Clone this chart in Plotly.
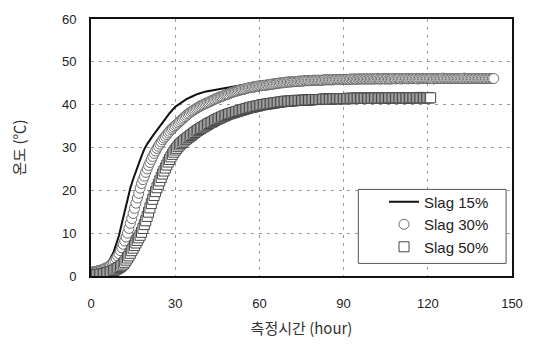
import plotly.graph_objects as go

# ---- data ----
# Slag 15% (solid line)
t15 = [0, 2, 4, 6, 8, 9, 10, 11, 12, 13, 14, 15, 16, 17, 18, 19, 20, 22, 24, 26, 28, 30,
       32, 34, 36, 38, 41, 45, 50, 55, 60, 70, 80, 100, 120, 144]
slag15 = [0.0, 0.5, 1.5, 3.0, 5.5, 7.5, 9.5, 12.3, 15.2, 18.0, 20.5, 22.6, 24.5, 26.3, 28.0,
          29.6, 30.8, 32.7, 34.5, 36.3, 38.0, 39.5, 40.5, 41.3, 41.9, 42.5, 43.1, 43.6, 44.2,
          44.7, 45.1, 45.6, 45.9, 46.0, 46.0, 46.0]

# Slag 30% and Slag 50%: readings every half hour, starting at 0 h
STEP_H = 0.5
slag30 = [
    0.9, 0.9, 1.0, 1.0, 1.1, 1.2, 1.3, 1.4, 1.5, 1.6, 1.8, 1.9, 2.1, 2.3, 2.6, 2.9, 3.2, 3.6,
    4.1, 4.6, 5.2, 5.9, 6.6, 7.4, 8.2, 9.1, 10.0, 11.1, 12.3, 13.4, 14.6, 15.8, 17.0, 18.2,
    19.3, 20.5, 21.6, 22.5, 23.3, 24.2, 25.0, 25.8, 26.5, 27.2, 27.9, 28.6, 29.2, 29.8,
    30.3, 30.8, 31.3, 31.8, 32.2, 32.6, 33.0, 33.4, 33.8, 34.2, 34.5, 34.8, 35.1, 35.4,
    35.7, 36.0, 36.3, 36.6, 36.9, 37.2, 37.5, 37.8, 38.0, 38.3, 38.5, 38.7, 38.9, 39.1,
    39.3, 39.5, 39.7, 39.9, 40.0, 40.2, 40.3, 40.5, 40.6, 40.8, 40.9, 41.1, 41.2, 41.4,
    41.5, 41.7, 41.8, 41.9, 42.0, 42.2, 42.3, 42.4, 42.5, 42.7, 42.8, 42.9, 43.0, 43.1,
    43.2, 43.3, 43.4, 43.5, 43.5, 43.6, 43.7, 43.8, 43.9, 44.0, 44.0, 44.1, 44.1, 44.2,
    44.3, 44.3, 44.4,
    44.4, 44.5, 44.5, 44.5, 44.6, 44.6, 44.7, 44.7, 44.8, 44.8, 44.9, 44.9, 45.0, 45.0,
    45.1, 45.1, 45.1, 45.2, 45.2, 45.3,
    45.3, 45.3, 45.3, 45.4, 45.4, 45.4, 45.4, 45.5, 45.5, 45.5, 45.5, 45.6, 45.6, 45.6,
    45.6, 45.6, 45.6, 45.7, 45.7, 45.7,
    45.7, 45.7, 45.7, 45.7, 45.7, 45.8, 45.8, 45.8, 45.8, 45.8, 45.8, 45.8, 45.8, 45.9,
    45.9, 45.9, 45.9, 45.9, 45.9, 45.9,
    45.9, 45.9, 45.9, 45.9, 46.0, 45.9, 46.0, 46.0, 45.9, 46.0, 46.0, 46.0, 46.0, 46.0,
    46.0, 46.0, 46.0, 46.0, 46.0, 46.0,
    46.0, 46.0, 46.0, 46.1, 46.0, 46.0, 46.0, 46.1, 46.0, 46.0, 46.1, 46.0, 46.0, 46.0,
    46.1, 46.1, 46.0, 46.1, 46.1, 46.1,
    46.0, 46.1, 46.1, 46.1, 46.1, 46.0, 46.1, 46.1, 46.1, 46.1, 46.1, 46.1, 46.0, 46.1,
    46.1, 46.1, 46.1, 46.1, 46.1, 46.1,
    46.1, 46.1, 46.1, 46.0, 46.1, 46.1, 46.1, 46.1, 46.1, 46.1, 46.2, 46.1, 46.1, 46.1,
    46.1, 46.1, 46.1, 46.1, 46.1, 46.1,
    46.1, 46.1, 46.1, 46.1, 46.1, 46.2, 46.1, 46.1, 46.1, 46.1, 46.1, 46.1, 46.1, 46.1,
    46.1, 46.1, 46.1, 46.1, 46.1, 46.1,
    46.1, 46.1, 46.1, 46.1, 46.1, 46.1, 46.1,
]
slag50 = [
    0.3, 0.3, 0.3, 0.3, 0.3, 0.3, 0.4, 0.4, 0.5, 0.5, 0.6, 0.7, 0.8, 0.9, 1.0, 1.1, 1.3, 1.4,
    1.6, 1.8, 2.0, 2.2, 2.5, 2.8, 3.2, 3.7, 4.2, 4.7, 5.3, 5.9, 6.5, 7.1, 7.7, 8.3, 8.9, 9.5,
    10.2, 11.1, 12.0, 12.9, 13.9, 14.9, 15.9, 16.9, 17.9, 18.8, 19.7, 20.6, 21.4, 22.2,
    23.0, 23.8, 24.5, 25.2, 25.9, 26.6, 27.2, 27.8, 28.4, 28.9, 29.4, 29.8, 30.2, 30.6,
    30.9, 31.2, 31.5, 31.8, 32.0, 32.3, 32.5, 32.8, 33.0, 33.3, 33.5, 33.8, 34.0, 34.2,
    34.4, 34.6, 34.8, 35.0, 35.2, 35.4, 35.6, 35.8, 35.9, 36.1, 36.3, 36.5, 36.6, 36.8,
    36.9, 37.1, 37.2, 37.4, 37.5, 37.7, 37.8, 37.9, 38.0, 38.1, 38.2, 38.3, 38.4, 38.5,
    38.6, 38.7, 38.8, 38.9, 39.0, 39.1, 39.2, 39.3, 39.4, 39.4, 39.5, 39.6, 39.7, 39.7,
    39.8,
    39.9, 40.0, 40.0, 40.1, 40.1, 40.2, 40.2, 40.3, 40.3, 40.4, 40.4, 40.5, 40.5, 40.6,
    40.6, 40.7, 40.7, 40.8, 40.8, 40.8,
    40.8, 40.9, 40.9, 40.9, 40.9, 41.0, 41.0, 41.0, 41.0, 41.0, 41.0, 41.1, 41.1, 41.1,
    41.1, 41.1, 41.1, 41.2, 41.2, 41.2,
    41.2, 41.2, 41.2, 41.2, 41.3, 41.3, 41.3, 41.3, 41.3, 41.3, 41.3, 41.3, 41.4, 41.4,
    41.4, 41.4, 41.4, 41.4, 41.4, 41.4,
    41.4, 41.4, 41.5, 41.4, 41.5, 41.5, 41.4, 41.5, 41.5, 41.5, 41.5, 41.5, 41.5, 41.5,
    41.5, 41.5, 41.5, 41.5, 41.5, 41.5,
    41.5, 41.5, 41.6, 41.5, 41.5, 41.6, 41.5, 41.6, 41.6, 41.5, 41.6, 41.6, 41.6, 41.6,
    41.6, 41.6, 41.6, 41.6, 41.6, 41.6,
    41.6, 41.6, 41.6, 41.6, 41.5, 41.6, 41.6, 41.6, 41.6, 41.6, 41.6, 41.6, 41.6, 41.7,
    41.6, 41.6, 41.6, 41.6, 41.6, 41.6,
    41.6, 41.6,
]
t30 = [i * STEP_H for i in range(len(slag30))]
t50 = [i * STEP_H for i in range(len(slag50))]

x_ticks = [0, 30, 60, 90, 120, 150]
y_ticks = [0, 10, 20, 30, 40, 50, 60]

FONT = "Liberation Sans, Arial, sans-serif"
KFONT = "Noto Sans CJK KR, Liberation Sans, sans-serif"

fig = go.Figure()
fig.add_trace(go.Scatter(
    x=t15, y=slag15, mode="lines", name="Slag 15%", legendgroup="a",
    line=dict(color="#111111", width=2),
))
fig.add_trace(go.Scatter(
    x=t30, y=slag30, mode="markers", name="Slag 30%", legendgroup="b",
    marker=dict(symbol="circle", size=10, color="white",
                line=dict(color="#6a6a6a", width=1)),
))
fig.add_trace(go.Scatter(
    x=t50, y=slag50, mode="markers", name="Slag 50%", legendgroup="c",
    marker=dict(symbol="square", size=10, color="white",
                line=dict(color="#474747", width=1)),
))

# legend frame
fig.add_shape(type="rect", xref="paper", yref="paper",
              x0=0.635, x1=0.986, y0=0.049, y1=0.337,
              line=dict(color="#555555", width=1), fillcolor="white", layer="above")

fig.update_layout(
    width=535, height=348,
    margin=dict(l=91, r=17, t=12, b=72),
    paper_bgcolor="white", plot_bgcolor="white",
    font=dict(family=FONT, size=13, color="#222222"),
    showlegend=True,
    legend=dict(
        x=0.696, y=0.352, xanchor="left", yanchor="top",
        bgcolor="rgba(0,0,0,0)", borderwidth=0,
        font=dict(family=FONT, size=15, color="#222222"),
        tracegroupgap=7, traceorder="normal",
    ),
    xaxis=dict(
        range=[0, 150], tickvals=x_ticks, ticks="", ticklabelstandoff=14,
        showline=True, linecolor="#111111", linewidth=2, mirror=True,
        showgrid=True, gridcolor="#9a9a9a", griddash="3px,5px", gridwidth=1,
        zeroline=False,
        title=dict(text="측정시간 (hour)", font=dict(family=KFONT, size=15, color="#333333"),
                   standoff=14),
    ),
    yaxis=dict(
        range=[0, 60], tickvals=y_ticks, ticks="", ticklabelstandoff=10,
        showline=True, linecolor="#111111", linewidth=2, mirror=True,
        showgrid=True, gridcolor="#9a9a9a", griddash="3px,5px", gridwidth=1,
        zeroline=False,
        title=dict(text="온도 (℃)", font=dict(family=KFONT, size=15, color="#333333"),
                   standoff=33),
    ),
)

fig.write_html("out.html")
